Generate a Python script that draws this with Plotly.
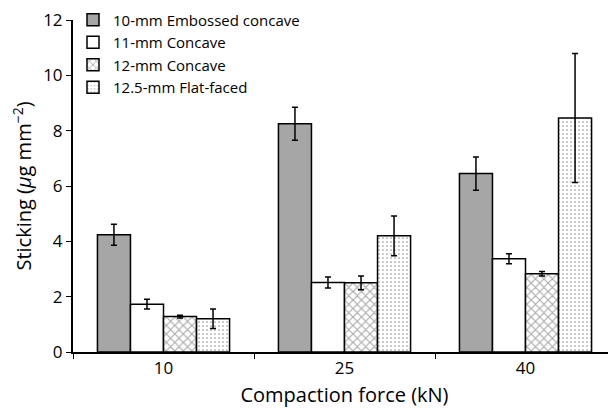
import plotly.graph_objects as go

categories = ["10", "25", "40"]
series_names = ["10-mm Embossed concave", "11-mm Concave", "12-mm Concave", "12.5-mm Flat-faced"]
emb_vals = [4.24, 8.25, 6.45]
emb_err = [0.38, 0.6, 0.6]
c11_vals = [1.73, 2.51, 3.37]
c11_err = [0.18, 0.2, 0.18]
c12_vals = [1.28, 2.5, 2.83]
c12_err = [0.05, 0.25, 0.08]
flat_vals = [1.2, 4.2, 8.46]
flat_err = [0.35, 0.72, 2.33]

values = [emb_vals, c11_vals, c12_vals, flat_vals]
errors = [emb_err, c11_err, c12_err, flat_err]
fills = ["#a6a6a6", "white", "white", "white"]
patterns = [dict(shape=""), dict(shape=""),
            dict(shape="x", fgcolor="#555555", size=6, solidity=0.35),
            dict(shape=".", fgcolor="#333333", size=4, solidity=0.15)]

fig = go.Figure()
for name, v, e, f, p in zip(series_names, values, errors, fills, patterns):
    fig.add_trace(go.Bar(
        x=categories, y=v, name=name,
        marker=dict(color=f, line=dict(color="black", width=1.5), pattern=p),
        error_y=dict(type="data", array=e, color="black", thickness=1.5, width=3),
    ))

font = "Open Sans, Noto Sans, DejaVu Sans, sans-serif"
fig.update_layout(
    width=608, height=402,
    margin=dict(l=65, r=0, t=12, b=58, autoexpand=False),
    plot_bgcolor="white", paper_bgcolor="white",
    barmode="group", bargap=0.27, bargroupgap=0,
    font=dict(family=font, size=17, color="black"),
    legend=dict(x=0.0, y=1.05, xanchor="left", yanchor="top",
                font=dict(size=15), bgcolor="rgba(0,0,0,0)",
                tracegroupgap=0, itemwidth=30),
    showlegend=True,
)
fig.update_xaxes(
    type="category", range=[-0.5, 2.5],
    showline=True, linecolor="black", linewidth=2,
    ticks="outside", tickson="boundaries", ticklen=5, tickcolor="black",
    title=dict(text="Compaction force (kN)", standoff=10),
    tickfont=dict(size=17), showgrid=False, automargin=False,
    ticklabeloverflow="allow",
)
fig.update_yaxes(
    range=[0, 12], dtick=2,
    showline=True, linecolor="black", linewidth=2,
    ticks="outside", ticklen=5, tickcolor="black",
    title=dict(text="Sticking (<i>μ</i>g mm<sup>−2</sup>)", standoff=8),
    tickfont=dict(size=17), showgrid=False, zeroline=False, automargin=False,
    ticklabeloverflow="allow",
)
fig.write_html("out.html")
